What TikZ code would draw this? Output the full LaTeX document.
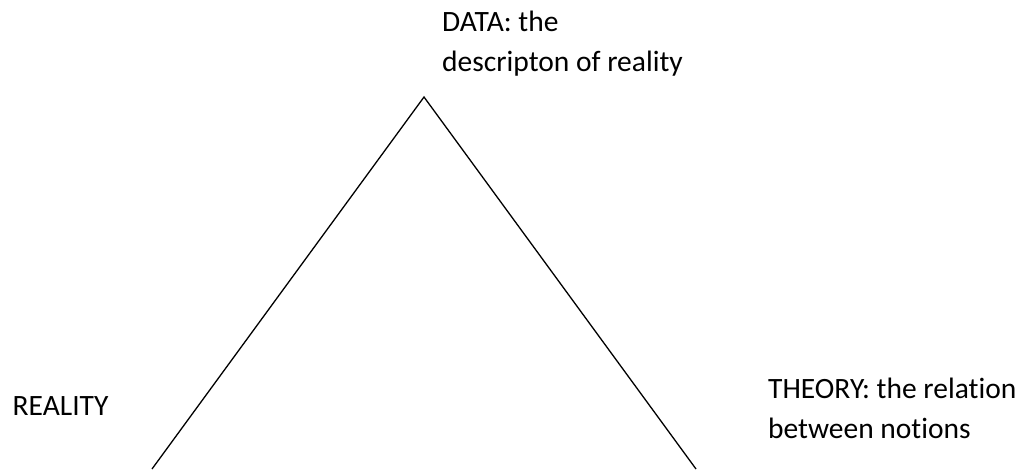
\documentclass[tikz,border=0pt]{standalone}
\usepackage{fontspec}
\setmainfont{Carlito}[Ligatures=NoCommon]
\begin{document}
\begin{tikzpicture}[x=1pt,y=-1pt,
  lbl/.style={inner sep=0pt, anchor=base west, align=left,
    font=\fontsize{29.5}{40}\selectfont},
  edge/.style={line width=1.3pt, line cap=butt}]
\useasboundingbox (0,0) rectangle (1023,469);
\coordinate (apex) at (424,97);
\coordinate (bl) at (152,469);
\coordinate (br) at (696,469);
\draw[edge] (bl) -- (apex) -- (br);
\node[lbl] (data) at (442,71.7) {DATA: the\\descripton of reality};
\node[lbl] (reality) at (12.5,415.7) {REALITY};
\node[lbl] (theory) at (768,438.3) {THEORY: the relation\\between notions};
\end{tikzpicture}
\end{document}
